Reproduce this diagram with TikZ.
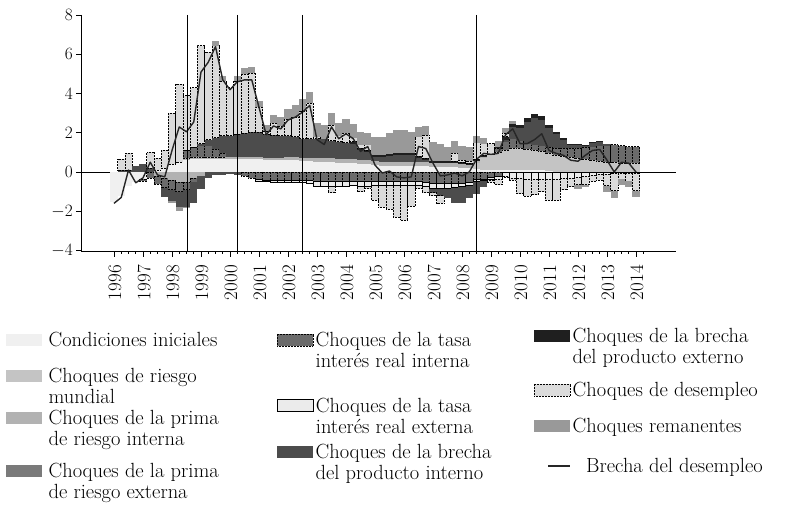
\documentclass[tikz,border=0pt]{standalone}
\usepackage{fontspec}
\usetikzlibrary{positioning}
% componentes de la descomposicion
\tikzset{
  ci/.style={fill=black!6},
  rm/.style={fill=black!23},
  pi/.style={fill=black!30},
  pe/.style={fill=black!52},
  ti/.style={fill=black!58,draw=black,densely dotted,line width=.5pt},
  te/.style={fill=black!8,draw=black,line width=.7pt},
  bi/.style={fill=black!70},
  be/.style={fill=black!88},
  de/.style={fill=black!14,draw=black,densely dotted,line width=.5pt},
  re/.style={fill=black!40}
}
% barra apilada: #1 trimestre, #2 parte positiva, #3 parte negativa
\newcommand\qstack[3]{%
  \xdef\acum{0}%
  \foreach \st/\val in {#2}{%
    \pgfmathsetmacro\sig{\acum+\val}%
    \path[\st] (#1-.5,\acum) rectangle (#1+.5,\sig);%
    \xdef\acum{\sig}}%
  \xdef\acum{0}%
  \foreach \st/\val in {#3}{%
    \pgfmathsetmacro\sig{\acum+\val}%
    \path[\st] (#1-.5,\acum) rectangle (#1+.5,\sig);%
    \xdef\acum{\sig}}%
}

\begin{document}
\begin{tikzpicture}
[x=1pt,y=1pt,
eje/.style={line width=.6pt},
guia/.style={line width=.8pt},
brecha/.style={line width=1.4pt,black!85,line join=round},
etiq/.style={font=\fontsize{19}{22}\selectfont,inner sep=0pt},
muestra/.style={minimum width=36pt,minimum height=12pt,inner sep=0pt,anchor=south west},
leyenda/.style={font=\fontsize{20.5}{21.5}\selectfont,align=left,anchor=base west,inner sep=0pt}]
\useasboundingbox (0,0) rectangle (797,504);

%% ejes
\draw[eje] (81,489) -- (81,253) -- (676,253);
\draw[eje] (81,332) -- (676,332);
\foreach \v in {8,6,...,-4}
{
\draw[eje] (76,{332+19.6*\v}) -- (81,{332+19.6*\v});
\node[etiq,anchor=east] (y\v) at (73,{332+19.6*\v}) {$\v$};
}
\foreach \q in {0,...,73}
  \draw[eje] ({114+7.25*\q},253) -- ++(0,-3);
\foreach \anio in {1996,...,2014}
{
\draw[eje] ({114+29*(\anio-1996)},253) -- ++(0,-6);
\node[etiq,rotate=90,anchor=east] (a\anio) at ({115+29*(\anio-1996)},239) {\anio};
}

%% barras trimestrales
\begin{scope}[shift={(114,332)},x=7.25pt,y=19.6pt]
\qstack{0}{ci/0}{ci/-1.55}
\qstack{1}{bi/.1,de/.55}{ci/-1.2}
\qstack{2}{bi/.1,de/.85}{ci/-.7}
\qstack{3}{bi/.3}{ci/-.5}
\qstack{4}{bi/.4}{ci/-.35,ti/-.1}
\qstack{5}{bi/.2,de/.8}{ti/-.3}
\qstack{6}{ci/.1,de/.6}{pi/-.2,ti/-.4}
\qstack{7}{ci/.2,de/.9}{pi/-.3,ti/-.5,bi/-.5}
\qstack{8}{ci/.4,de/2.6}{pi/-.4,ti/-.5,bi/-.6,re/-.1}
\qstack{9}{ci/.5,de/4.0}{pi/-.5,ti/-.5,bi/-.8,re/-.2}
\qstack{10}{ci/.6,pi/.1,ti/.4,de/2.8}{pi/-.5,ti/-.4,bi/-.9,re/-.05}
\qstack{11}{ci/.65,pi/.1,ti/.5,de/3.05}{pi/-.3,ti/-.2,bi/-1.1}
\qstack{12}{ci/.65,pi/.1,ti/.6,bi/.1,de/5.0}{pi/-.2,bi/-.65}
\qstack{13}{ci/.65,pi/.1,ti/.6,bi/.3,de/4.45}{bi/-.3}
\qstack{14}{ci/.65,pi/.1,ti/.4,bi/.6,de/4.7,re/.25}{bi/-.15}
\qstack{15}{ci/.65,pi/.1,ti/.2,bi/.9,de/2.8,re/.25}{bi/-.15}
\qstack{16}{ci/.65,pi/.1,bi/1.1,de/2.45}{bi/-.1}
\qstack{17}{ci/.65,pi/.1,bi/1.2,de/2.7,re/.25}{bi/-.15}
\qstack{18}{ci/.65,pi/.1,bi/1.25,de/3.0,re/.3}{ti/-.2}
\qstack{19}{ci/.65,pi/.1,bi/1.3,de/3.0,re/.3}{ti/-.3}
\qstack{20}{ci/.65,pi/.1,bi/1.3,de/1.25,re/.3}{ti/-.4,te/-.1}
\qstack{21}{ci/.6,pi/.1,bi/1.25,de/.15,re/.3}{ti/-.45,te/-.05}
\qstack{22}{ci/.6,pi/.1,bi/1.2,de/.6,re/.4}{ti/-.45,te/-.1}
\qstack{23}{ci/.6,pi/.1,bi/1.15,de/.5,re/.45}{ti/-.45,te/-.1}
\qstack{24}{ci/.6,pi/.15,bi/1.1,de/.85,re/.5}{ti/-.45,te/-.1}
\qstack{25}{ci/.6,pi/.15,bi/1.05,de/1.0,re/.6}{ti/-.45,te/-.1}
\qstack{26}{ci/.55,pi/.15,bi/1.0,de/1.4,re/.6}{ti/-.45,te/-.1}
\qstack{27}{ci/.55,pi/.15,bi/1.0,de/1.8,re/.6}{ti/-.45,te/-.15}
\qstack{28}{ci/.5,pi/.2,bi/1.0,de/.1,re/.7}{ti/-.5,te/-.25}
\qstack{29}{ci/.5,pi/.2,bi/1.0,re/.7}{ti/-.5,te/-.25}
\qstack{30}{ci/.5,pi/.2,bi/.9,de/.8,re/.6}{ti/-.5,te/-.25,de/-.3}
\qstack{31}{ci/.45,pi/.2,bi/.9,de/.3,re/.65}{ti/-.5,te/-.25}
\qstack{32}{ci/.45,pi/.2,bi/.85,de/.5,re/.7}{ti/-.5,te/-.25}
\qstack{33}{ci/.45,pi/.2,bi/.8,be/.1,de/.2,re/.7}{ti/-.5,te/-.2}
\qstack{34}{ci/.4,pi/.2,bi/.5,be/.1,de/.2,re/.65}{ti/-.5,te/-.25,de/-.25}
\qstack{35}{ci/.4,pi/.2,bi/.4,be/.1,de/.3,re/.6}{ti/-.5,te/-.25,de/-.1}
\qstack{36}{ci/.35,pi/.2,bi/.2,be/.1,re/.95}{ti/-.5,te/-.2,de/-.75}
\qstack{37}{ci/.3,pi/.2,bi/.25,be/.1,re/.95}{ti/-.5,te/-.2,de/-1.1}
\qstack{38}{ci/.3,pi/.2,bi/.3,be/.1,re/1.1}{ti/-.5,te/-.2,de/-1.2}
\qstack{39}{ci/.3,pi/.2,bi/.35,be/.1,re/1.2}{ti/-.5,te/-.2,de/-1.6}
\qstack{40}{ci/.3,pi/.2,bi/.35,be/.1,re/1.2}{ti/-.5,te/-.2,de/-1.75}
\qstack{41}{ci/.3,pi/.2,bi/.35,be/.1,re/1.1}{ti/-.5,te/-.2,de/-1.05}
\qstack{42}{ci/.3,pi/.2,bi/.2,be/.1,de/1.0,re/.5}{ti/-.5,te/-.2,de/-.15}
\qstack{43}{ci/.3,pi/.2,bi/.1,be/.1,de/1.2,re/.45}{ti/-.55,te/-.2,de/-.3}
\qstack{44}{ci/.25,pi/.2,be/.1,re/1.0}{ti/-.6,te/-.25,bi/-.2,de/-.15}
\qstack{45}{ci/.25,pi/.2,be/.1,re/.9}{ti/-.6,te/-.25,bi/-.35,de/-.4}
\qstack{46}{ci/.25,pi/.2,be/.1,re/.75}{ti/-.6,te/-.25,bi/-.5}
\qstack{47}{ci/.25,pi/.2,be/.1,de/.4,re/.65}{ti/-.6,te/-.2,bi/-.8}
\qstack{48}{ci/.2,pi/.2,be/.1,de/.1,re/.75}{ti/-.6,te/-.15,bi/-.85}
\qstack{49}{ci/.2,pi/.15,be/.1,de/.1,re/.75}{ti/-.55,te/-.15,bi/-.65}
\qstack{50}{ci/.15,rm/.3,pi/.1,be/.1,de/.85,re/.35}{ti/-.4,te/-.1,bi/-.6}
\qstack{51}{ci/.1,rm/.6,pi/.05,be/.1,de/.6,re/.3}{ti/-.35,te/-.1,bi/-.3}
\qstack{52}{ci/.1,rm/.75,be/.05,de/.55}{ti/-.25,te/-.15,de/-.1}
\qstack{53}{ci/.1,rm/.9,ti/.2,be/.05,re/.35}{ti/-.2,te/-.15,de/-.3}
\qstack{54}{ci/.1,rm/1.0,ti/.45,bi/.1,be/.15,de/.2,re/.25}{te/-.2,de/-.05}
\qstack{55}{ci/.1,rm/1.1,ti/.5,bi/.6,be/.15,re/.15}{te/-.3,de/-.1}
\qstack{56}{ci/.1,rm/1.1,ti/.4,bi/.65,be/.15}{te/-.3,de/-.8}
\qstack{57}{ci/.1,rm/1.05,ti/.3,bi/1.1,be/.2}{te/-.35,de/-.9}
\qstack{58}{ci/.1,rm/1.0,ti/.3,bi/1.35,be/.2}{te/-.35,de/-.8}
\qstack{59}{ci/.1,rm/.95,ti/.3,bi/1.3,be/.2}{te/-.35,de/-.65}
\qstack{60}{ci/.05,rm/.9,ti/.3,bi/1.0,be/.15}{te/-.35,de/-1.1}
\qstack{61}{rm/.85,ti/.35,bi/.75,be/.1}{te/-.35,de/-1.1}
\qstack{62}{rm/.8,ti/.4,bi/.45,be/.1}{te/-.3,de/-.6}
\qstack{63}{rm/.75,ti/.45,bi/.2,be/.05}{te/-.3,de/-.45}
\qstack{64}{rm/.7,ti/.5,bi/.2,be/.05}{te/-.25,de/-.4,re/-.2}
\qstack{65}{rm/.65,ti/.6,bi/.1,be/.05}{te/-.2,de/-.45,re/-.1}
\qstack{66}{rm/.6,ti/.7,bi/.2,be/.05}{te/-.15,de/-.3}
\qstack{67}{rm/.55,ti/.8,bi/.2,be/.05}{te/-.1,de/-.3}
\qstack{68}{rm/.5,ti/.85,bi/.1}{te/-.1,de/-.6,re/-.3}
\qstack{69}{rm/.5,ti/.9}{te/-.05,de/-.9,re/-.4}
\qstack{70}{rm/.45,ti/.9}{te/-.05,de/-.3,re/-.3}
\qstack{71}{rm/.45,ti/.85}{te/-.05,de/-.4,re/-.3}
\qstack{72}{rm/.45,ti/.85}{te/-.05,de/-.9,re/-.35}

%% brecha del desempleo
\draw[brecha] plot coordinates {(0,-1.6) (1,-1.3) (2,.1) (3,-.55) (4,-.3) (5,.5) (6,-.15)
 (7,-.25) (8,1.1) (9,2.3) (10,2.05) (11,2.55) (12,5.1) (13,5.6) (14,6.4) (15,4.7) (16,4.2)
 (17,4.6) (18,4.7) (19,4.7) (20,3.3) (21,1.9) (22,2.35) (23,2.2) (24,2.65) (25,2.8) (26,3.05)
 (27,3.4) (28,1.65) (29,1.4) (30,2.3) (31,1.7) (32,1.95) (33,1.7) (34,1.05) (35,1.3) (36,.35)
 (37,-.05) (38,.05) (39,-.25) (40,-.3) (41,-.25) (42,1.3) (43,1.2) (44,.45) (45,-.2) (46,-.15)
 (47,-.05) (48,-.2) (49,0) (50,.65) (51,.95) (52,.9) (53,.95) (54,1.9) (55,2.2) (56,1.45)
 (57,1.45) (58,1.65) (59,1.95) (60,1.1) (61,.95) (62,.85) (63,.6) (64,.55) (65,.85) (66,1.1)
 (67,1.15) (68,.6) (69,0) (70,.5) (71,.45) (72,0)};
\end{scope}

%% lineas verticales
\foreach \xv in {187,237,302,476}
  \draw[guia] (\xv,489) -- (\xv,253);

%% leyenda (base = ultima linea del texto)
\foreach \nombre/\x/\y/\sep/\baja/\texto in {
ci/6/158/6/0/{Condiciones iniciales}, rm/6/122/6/21.5/{Choques de riesgo\\mundial},
pi/6/80/6/21.5/{Choques de la prima\\de riesgo interna}, pe/6/27/6/21.5/{Choques de la prima\\de riesgo externa},
ti/277/158/2/21.5/{Choques de la tasa\\interés real interna}, te/277/92/2/21.5/{Choques de la tasa\\interés real externa},
bi/277/46/2/21.5/{Choques de la brecha\\del producto interno}, be/534/162/2/21.5/{Choques de la brecha\\del producto externo},
de/534/108/2/0/{Choques de desempleo}, re/534/72/2/0/{Choques remanentes}}
{
\node[muestra,\nombre] (m\nombre) at (\x,\y) {};
\node[leyenda] (t\nombre) at ([xshift=\sep pt,yshift=-\baja pt]m\nombre.south east) {\texto};
}
\coordinate (l1) at (548,38);
\coordinate (l2) at (570,38);
\draw[brecha] (l1) -- (l2);
\node[leyenda] (tbrecha) at ([xshift=16pt,yshift=-6pt]l2) {Brecha del desempleo};

\end{tikzpicture}
\end{document}
